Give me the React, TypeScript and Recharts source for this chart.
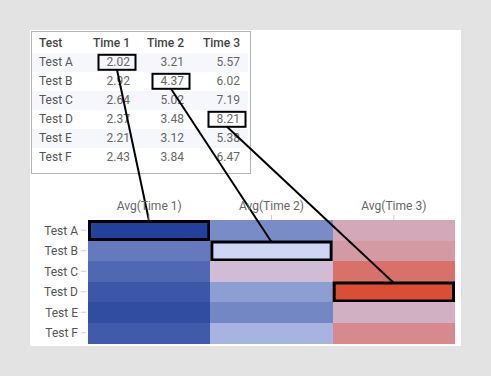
import React from 'react';
import { BarChart, Bar, XAxis, YAxis } from 'recharts';

// ---- data ----
const tests = ['Test A', 'Test B', 'Test C', 'Test D', 'Test E', 'Test F'];
const time1 = [2.02, 2.92, 2.64, 2.37, 2.21, 2.43];
const time2 = [3.21, 4.37, 5.02, 3.48, 3.12, 3.84];
const time3 = [5.57, 6.02, 7.19, 8.21, 5.38, 6.47];
const tableHeaders = ['Test', 'Time 1', 'Time 2', 'Time 3'];
const axisLabels = ['Avg(Time 1)', 'Avg(Time 2)', 'Avg(Time 3)'];
const markedCells = [
  { test: 'Test A', col: 0 },
  { test: 'Test B', col: 1 },
  { test: 'Test D', col: 2 },
];

const series = [time1, time2, time3];

// table for the library: each heat cell spans one unit on the x axis
const data = tests.map((t) => ({ test: t, span1: 1, span2: 1, span3: 1 }));

// ---- colour scale ----
const colorStops: [number, string][] = [
  [2.02, '#22419a'],
  [4.37, '#cfd6f4'],
  [5.02, '#d1bcd6'],
  [8.21, '#db4e36'],
];
const hex = (h: string) => [1, 3, 5].map((i) => parseInt(h.slice(i, i + 2), 16));
const colorFor = (v: number) => {
  if (v <= colorStops[0][0]) return colorStops[0][1];
  for (let i = 1; i < colorStops.length; i++) {
    const [v1, c1] = colorStops[i];
    const [v0, c0] = colorStops[i - 1];
    if (v <= v1) {
      const t = (v - v0) / (v1 - v0);
      const a = hex(c0);
      const b = hex(c1);
      const m = a.map((x, k) => Math.round(x + (b[k] - x) * t));
      return `rgb(${m[0]},${m[1]},${m[2]})`;
    }
  }
  return colorStops[colorStops.length - 1][1];
};

// ---- table geometry ----
const FONT = 'Roboto, "Noto Sans", sans-serif';
const TABLE_LEFT = 31;
const TABLE_TOP = 31;
const TABLE_W = 220;
const TABLE_H = 143;
const HEADER_TOP = 34.3;
const ROW_H = 19;
const TEST_LEFT = 39;
const COL_RIGHT = [130, 184, 240];
const STRIPE_LEFT = 32;
const STRIPE_W = 216;

const rowTop = (i: number) => HEADER_TOP + ROW_H * (i + 1);
const boxFor = (rowIndex: number, col: number) => {
  const right = COL_RIGHT[col] + 6.5;
  const width = 39;
  const top = rowTop(rowIndex) + 0.5;
  const height = 17;
  return { left: right - width, top, width, height };
};

const makeShape = (col: number) => (props: any) => {
  const { x, y, width, height, index } = props;
  const value = series[col][index];
  const mark = markedCells.find((m) => m.col === col && m.test === tests[index]);
  const fill = colorFor(value);
  if (!mark) {
    return <rect x={x} y={y} width={width} height={height} fill={fill} shapeRendering="crispEdges" />;
  }
  const box = boxFor(index, col);
  return (
    <g>
      <rect x={x} y={y} width={width} height={height} fill={fill} shapeRendering="crispEdges" />
      <rect x={x + 1.5} y={y + 1.5} width={width - 3} height={height - 3} fill="none" stroke="#000" strokeWidth={3} />
      <rect x={box.left + 1} y={box.top + 1} width={box.width - 2} height={box.height - 2} fill="none" stroke="#000" strokeWidth={2} />
      <line x1={box.left + box.width / 2} y1={box.top + box.height - 1} x2={x + width / 2} y2={y + 1.5} stroke="#000" strokeWidth={2} />
    </g>
  );
};

const YTick = (props: any) => {
  const { x, y, payload } = props;
  return (
    <g>
      <line x1={x + 3} x2={x + 8} y1={y} y2={y} stroke="#d0d0d0" strokeWidth={1} />
      <text x={x} y={y} dy="0.355em" textAnchor="end" fill="#555" fontSize={12} fontFamily={FONT}>
        {payload.value}
      </text>
    </g>
  );
};

const Table = () => {
  const cellStyle: React.CSSProperties = {
    position: 'absolute',
    height: ROW_H,
    lineHeight: `${ROW_H}px`,
    fontSize: 12,
    fontFamily: FONT,
    whiteSpace: 'nowrap',
  };
  return (
    <>
      <div
        style={{
          position: 'absolute',
          left: TABLE_LEFT,
          top: TABLE_TOP,
          width: TABLE_W,
          height: TABLE_H,
          border: '1px solid #b4b4b4',
          boxSizing: 'border-box',
          background: '#fff',
        }}
      />
      {tests.map((t, i) =>
        i % 2 === 0 ? (
          <div
            key={'s' + t}
            style={{ position: 'absolute', left: STRIPE_LEFT, top: rowTop(i), width: STRIPE_W, height: ROW_H, background: '#f5f7fc' }}
          />
        ) : null
      )}
      <div style={{ ...cellStyle, left: TEST_LEFT, top: HEADER_TOP, color: '#444', fontWeight: 500 }}>{tableHeaders[0]}</div>
      {tableHeaders.slice(1).map((h, c) => (
        <div
          key={h}
          style={{ ...cellStyle, left: COL_RIGHT[c] - 60, width: 60, textAlign: 'right', top: HEADER_TOP, color: '#444', fontWeight: 500 }}
        >
          {h}
        </div>
      ))}
      {tests.map((t, i) => (
        <React.Fragment key={t}>
          <div style={{ ...cellStyle, left: TEST_LEFT, top: rowTop(i), color: '#555' }}>{t}</div>
          {series.map((s, c) => (
            <div
              key={c}
              style={{ ...cellStyle, left: COL_RIGHT[c] - 60, width: 60, textAlign: 'right', top: rowTop(i), color: '#666' }}
            >
              {s[i].toFixed(2)}
            </div>
          ))}
        </React.Fragment>
      ))}
    </>
  );
};

export default function App() {
  return (
    <div style={{ position: 'absolute', left: 0, top: 0, width: 491, height: 376, background: '#e3e3e3', overflow: 'hidden' }}>
      <div style={{ position: 'absolute', left: 30, top: 30, width: 431, height: 316, background: '#fff' }} />
      <Table />
      <div style={{ position: 'absolute', left: 0, top: 0 }}>
        <BarChart
          width={491}
          height={376}
          data={data}
          layout="vertical"
          barCategoryGap={0}
          barGap={0}
          margin={{ top: 190, right: 36, bottom: 33, left: 28 }}
        >
          <XAxis
            type="number"
            orientation="top"
            domain={[0, 3]}
            ticks={[0.5, 1.5, 2.5]}
            interval={0}
            tickFormatter={(v: number) => axisLabels[Math.floor(v)]}
            height={30}
            axisLine={false}
            tickSize={5}
            tickMargin={5}
            tickLine={{ stroke: '#d0d0d0' }}
            tick={{ fill: '#666', fontSize: 12, fontFamily: FONT }}
          />
          <YAxis
            type="category"
            dataKey="test"
            width={60}
            axisLine={false}
            tickLine={false}
            tickSize={10}
            tickMargin={0}
            interval={0}
            tick={<YTick />}
          />
          <Bar dataKey="span1" stackId="cells" isAnimationActive={false} shape={makeShape(0)} />
          <Bar dataKey="span2" stackId="cells" isAnimationActive={false} shape={makeShape(1)} />
          <Bar dataKey="span3" stackId="cells" isAnimationActive={false} shape={makeShape(2)} />
        </BarChart>
      </div>
    </div>
  );
}
